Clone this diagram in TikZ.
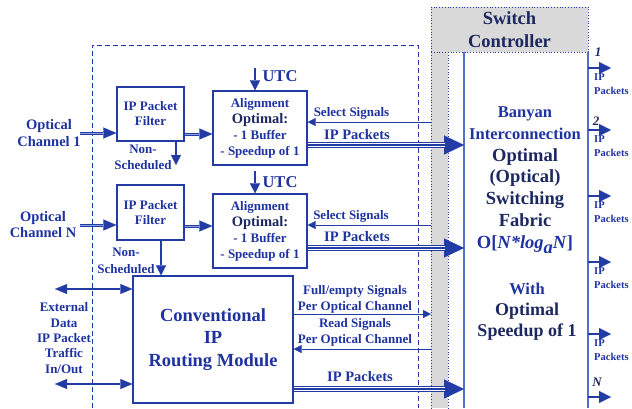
\documentclass[tikz,border=0pt]{standalone}
\usepackage{fontspec}
\setmainfont{Liberation Serif}
\usetikzlibrary{arrows.meta}
\definecolor{blueT}{RGB}{30,50,160}
\definecolor{navy}{RGB}{28,40,95}
\definecolor{lineB}{RGB}{35,60,165}
\definecolor{lightB}{RGB}{85,110,205}
\definecolor{paleB}{RGB}{140,160,220}
\definecolor{grayF}{RGB}{217,217,217}
\begin{document}
\begin{tikzpicture}[x=1pt,y=-1pt,
  font=\bfseries,
  box/.style={draw=lineB, line width=1.3pt, inner sep=0pt, text=blueT, align=center},
  txt/.style={text=blueT, align=center, inner sep=0pt},
  sz/.style={font=\bfseries\fontsize{#1}{#1}\selectfont},
  lab/.style={txt, font=\bfseries\fontsize{13}{15.5}\selectfont},
  thin/.style={draw=lineB, line width=1pt, -{Triangle[length=8pt,width=8pt,line width=0.1pt]}},
  med/.style={draw=lineB, line width=2pt, -{Triangle[length=10pt,width=10pt,line width=0.1pt]}},
  ext/.style={draw=lineB, line width=2pt, {Triangle[length=12pt,width=10pt,line width=0.1pt]}-{Triangle[length=12pt,width=10pt,line width=0.1pt]}},
  outarr/.style={draw=lineB, line width=2pt, -{Triangle[length=12pt,width=12pt,line width=0.1pt]}},
  dbl/.style={draw=lineB, line width=3pt, -{Triangle[length=13pt,width=11pt,line width=0.1pt]},
     postaction={draw=paleB, line width=0.8pt, -, shorten >=12pt}},
  tri/.style={draw=lineB, line width=6pt, -{Triangle[length=20pt,width=19pt,line width=0.1pt]},
     postaction={draw=white, line width=3.6pt, -, shorten >=19pt},
     postaction={draw=lineB, line width=1.2pt, -, shorten >=19pt}},
  small/.style={txt, anchor=west, align=left, font=\bfseries\fontsize{10.5}{13.5}\selectfont},
  num/.style={text=navy, inner sep=0pt, font=\bfseries\itshape\fontsize{13}{13}\selectfont}
]
\useasboundingbox (0,0) rectangle (632,408);

% dashed module boundary
\draw[lineB, line width=0.8pt, dash pattern=on 5pt off 3pt] (92,408) -- (92,45) -- (418,45) -- (418,408);

% gray band and switch controller
\fill[grayF] (431,52) rectangle (448,408);
\draw[lineB, dotted, line width=0.8pt] (431,52) -- (431,408);
\draw[lineB, dotted, line width=0.8pt] (448,52) -- (448,408);
\node[draw=lineB, dotted, line width=0.8pt, fill=grayF, minimum width=157pt, minimum height=45pt,
      inner sep=0pt, text=navy, align=center, font=\bfseries\fontsize{18.5}{23}\selectfont]
      (ctrl) at (509.5,29.5) {Switch\\Controller};

% banyan fabric box
\draw[lightB, line width=1.3pt] (464,52) -- (464,408);
\draw[lightB, line width=1.3pt] (588,52) -- (588,408);
\node[txt, font=\bfseries\fontsize{16.5}{21.8}\selectfont] (fab) at (525,180)
  {Banyan\\Interconnection\\
   {\color{navy}\fontsize{18.5}{21.8}\selectfont Optimal}\\
   {\color{navy}\fontsize{18.5}{21.8}\selectfont (Optical)}\\
   {\color{navy}\fontsize{18.5}{21.8}\selectfont Switching}\\
   {\color{navy}\fontsize{18.5}{21.8}\selectfont Fabric}\\
   {\fontsize{18.5}{21.8}\selectfont O[\textit{N*log}\raisebox{-5pt}{\textit{a}}\textit{N}]}};
\node[txt, font=\bfseries\fontsize{16.5}{21}\selectfont] (fab2) at (527,312)
  {With\\
   {\color{navy}\fontsize{18}{21}\selectfont Optimal}\\
   {\color{navy}\fontsize{18}{21}\selectfont Speedup of 1}};

% boxes
\node[box, minimum width=67pt, minimum height=54pt, font=\bfseries\fontsize{13}{15}\selectfont]
  (f1) at (150.5,114) {IP Packet\\Filter};
\node[box, minimum width=67pt, minimum height=55pt, font=\bfseries\fontsize{13}{15}\selectfont]
  (f2) at (150.5,212.5) {IP Packet\\Filter};
\node[box, minimum width=94pt, minimum height=74pt, font=\bfseries\fontsize{13}{16}\selectfont]
  (a1) at (260,128) {Alignment\\{\color{navy}\fontsize{14.5}{16}\selectfont Optimal:}\\- 1 Buffer\\- Speedup of 1};
\node[box, minimum width=94pt, minimum height=74pt, font=\bfseries\fontsize{13}{16}\selectfont]
  (a2) at (260,231) {Alignment\\{\color{navy}\fontsize{14.5}{16}\selectfont Optimal:}\\- 1 Buffer\\- Speedup of 1};
\node[box, minimum width=160pt, minimum height=127pt, font=\bfseries\fontsize{18.5}{22.5}\selectfont]
  (conv) at (213,339.5) {Conventional\\IP\\Routing Module};

% left texts
\node[txt, font=\bfseries\fontsize{14.5}{17}\selectfont] (oc1) at (49,133.5) {Optical\\Channel 1};
\node[txt, font=\bfseries\fontsize{14.5}{16}\selectfont] (ocn) at (43,225) {Optical\\Channel N};
\node[lab] (ns1) at (143,157.5) {Non-\\Scheduled};
\node[lab, font=\bfseries\fontsize{13}{17}\selectfont] (ns2) at (126,260.5) {Non-\\Scheduled};
\node[lab, font=\bfseries\fontsize{13}{15.3}\selectfont] (extt) at (64,338) {External\\Data\\IP Packet\\Traffic\\In/Out};
\node[txt, sz=16.5] (utc1) at (280,76) {UTC};
\node[txt, sz=16.5] (utc2) at (280,182) {UTC};

% coordinates
\coordinate (in1) at (80,133);
\coordinate (inN) at (80,225);
\coordinate (nsa) at (176,165);
\coordinate (nsb) at (161,0);
\coordinate (u1) at (255,68);
\coordinate (u2) at (255,171);
\coordinate (s1) at (431,122);
\coordinate (s2) at (431,225);
\coordinate (p1) at (464,145);
\coordinate (p2) at (464,248);
\coordinate (fe) at (431,314);
\coordinate (rd) at (431,349);
\coordinate (p3) at (464,389);
\coordinate (e1) at (55,289);
\coordinate (e2) at (55,384);

% connectors left
\draw[dbl] (in1) -- (in1 -| f1.west);
\draw[dbl] (inN) -- (inN -| f2.west);
\draw[dbl] (f1.east |- 0,134) -- (a1.west |- 0,134);
\draw[dbl] (f2.east |- 0,226) -- (a2.west |- 0,226);
\draw[med] (nsa |- f1.south) -- (nsa);
\draw[med] (nsb |- f2.south) -- (nsb |- conv.north);
\draw[med] (u1) -- (u1 |- a1.north);
\draw[med] (u2) -- (u2 |- a2.north);
\draw[ext] (e1) -- (e1 -| conv.west);
\draw[ext] (e2) -- (e2 -| conv.west);

% middle signals
\draw[thin] (s1) -- (s1 -| a1.east);
\draw[thin] (s2) -- (s2 -| a2.east);
\draw[tri] (p1 -| a1.east) -- (p1);
\draw[tri] (p2 -| a2.east) -- (p2);
\draw[thin] (fe -| conv.east) -- (fe);
\draw[thin] (rd) -- (rd -| conv.east);
\draw[tri] (p3 -| conv.east) -- (p3);

\node[lab] (ls1) at (351.5,113) {Select Signals};
\node[lab] (ls2) at (351,216) {Select Signals};
\node[txt, sz=14.5] (li1) at (357,135) {IP Packets};
\node[txt, sz=14.5] (li2) at (357,237) {IP Packets};
\node[txt, sz=14.5] (li3) at (360,377) {IP Packets};
\node[lab] (lfe) at (355,299.5) {Full/empty Signals\\Per Optical Channel};
\node[lab] (lrd) at (355,332.5) {Read Signals\\Per Optical Channel};

% outputs
\foreach \y/\n in {68/o1,130/o2,196/o3,262/o4,334/o5,397/o6}{
  \coordinate (\n) at (611,\y);
  \draw[outarr] (588,\y) -- (\n);
}
\foreach \y/\n in {84/q1,146/q2,212/q3,278/q4,350/q5}{
  \node[small] (\n) at (594,\y) {IP\\Packets};
}
\node[num] (n1) at (598,52) {1};
\node[num] (n2) at (596,121) {2};
\node[num] (nN) at (597,382) {N};
\end{tikzpicture}
\end{document}
